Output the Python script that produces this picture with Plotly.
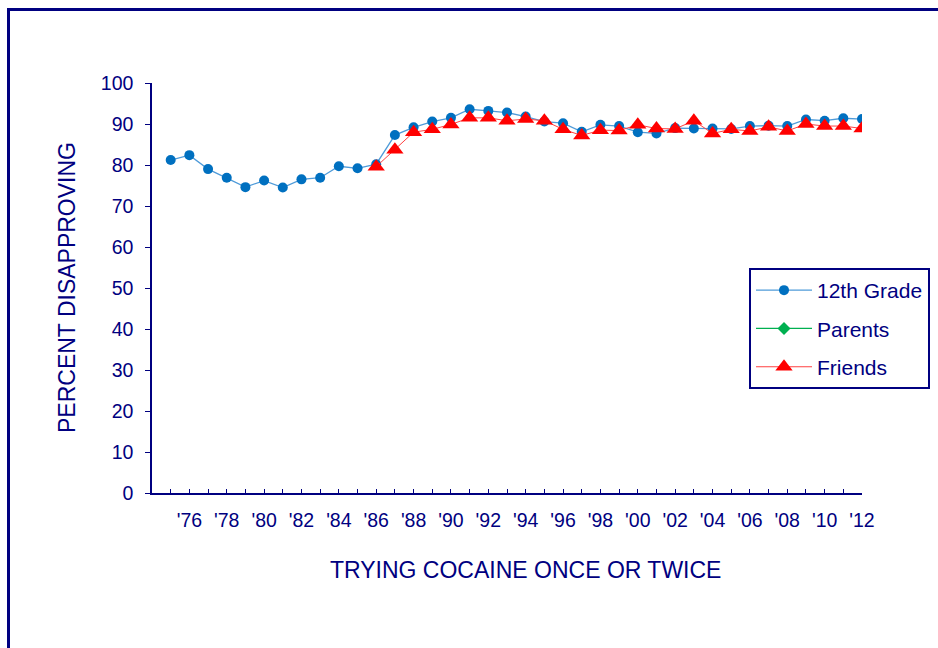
import plotly.graph_objects as go

years = list(range(1975, 2013))
grade12 = [81.2, 82.4, 79.0, 76.9, 74.6, 76.2, 74.5, 76.5, 76.9, 79.7, 79.2,
           80.2, 87.3, 89.2, 90.6, 91.5, 93.6, 93.2, 92.8, 91.8, 90.6,
           90.2, 88.1, 89.8, 89.5, 88.0, 87.7, 89.0, 88.9, 88.9, 88.8,
           89.5, 89.6, 89.5, 91.1, 90.8, 91.4, 91.2]
friend_years = list(range(1986, 2013))
friends = [79.6, 83.7, 88.0, 88.7, 89.9, 91.5, 91.5, 90.8, 91.2, 90.8,
           88.7, 87.2, 88.5, 88.4, 89.8, 88.9, 88.8, 90.8, 87.7, 88.7,
           88.3, 89.3, 88.3, 90.0, 89.5, 89.5, 88.9]
parent_years = []
parents = []

tick_vals = years
tick_text = ["'" + str(y)[2:] if y % 2 == 0 else "" for y in years]

NAVY = "#000080"
FONT = "Liberation Sans, Arial, sans-serif"

fig = go.Figure()
fig.add_trace(go.Scatter(
    x=years, y=grade12, name="12th Grade", mode="lines+markers",
    line=dict(color="#4f9bd9", width=1.3),
    marker=dict(symbol="circle", size=10, color="#0070C0"),
    legendgroup="a"))
fig.add_trace(go.Scatter(
    x=parent_years if parent_years else [None], y=parents if parents else [None],
    name="Parents", mode="lines+markers",
    line=dict(color="#00B050", width=1.3),
    marker=dict(symbol="diamond", size=10, color="#00B050"),
    legendgroup="b"))
fig.add_trace(go.Scatter(
    x=friend_years, y=friends, name="Friends", mode="lines+markers",
    line=dict(color="#FF4040", width=1),
    marker=dict(symbol="triangle-up", size=15, color="#FF0000"),
    legendgroup="c"))

L, R, T, B = 152, 862, 83, 493
W, H = 938, 648

def px(x):
    return (x - L) / (R - L)

def py(y):
    return (B - y) / (B - T)

fig.update_layout(
    width=W, height=H,
    margin=dict(l=L, r=W - R, t=T, b=H - B, autoexpand=False),
    paper_bgcolor="white", plot_bgcolor="white",
    font=dict(family=FONT, color=NAVY, size=20),
    showlegend=True,
    legend=dict(x=px(749), y=py(268), xanchor="left", yanchor="top",
                bordercolor=NAVY, borderwidth=2, bgcolor="white",
                font=dict(size=21, color=NAVY), tracegroupgap=8,
                itemwidth=56),
    xaxis=dict(range=[1974, 2012], tickmode="array", tickvals=tick_vals,
               ticktext=tick_text, ticks="inside", ticklen=4, tickcolor=NAVY,
               showline=True, linecolor=NAVY, linewidth=1.5, showgrid=False,
               zeroline=False, ticklabelstandoff=9,
               tickfont=dict(size=19.5, color=NAVY)),
    yaxis=dict(range=[0, 100], dtick=10, ticks="outside", ticklen=5,
               tickcolor=NAVY, showline=True, linecolor=NAVY, linewidth=1.5,
               showgrid=False, zeroline=False, ticklabelstandoff=8,
               tickfont=dict(size=19.5, color=NAVY)),
    annotations=[
        dict(text="PERCENT DISAPPROVING", xref="paper", yref="paper",
             x=px(67), y=0.5, textangle=-90, showarrow=False,
             font=dict(size=23, color=NAVY), xanchor="center", yanchor="middle"),
        dict(text="TRYING COCAINE ONCE OR TWICE", xref="paper", yref="paper",
             x=px(525), y=py(570), showarrow=False,
             font=dict(size=23, color=NAVY), xanchor="center", yanchor="middle"),
    ],
    shapes=[
        dict(type="rect", xref="paper", yref="paper",
             x0=px(8.5), y0=py(700), x1=px(1000), y1=py(9.5),
             line=dict(color=NAVY, width=3), fillcolor="rgba(0,0,0,0)",
             layer="below"),
    ],
)

fig.write_html("out.html",
               config={"displayModeBar": False},
               post_script="document.body.style.margin='0';document.body.style.padding='0';")
